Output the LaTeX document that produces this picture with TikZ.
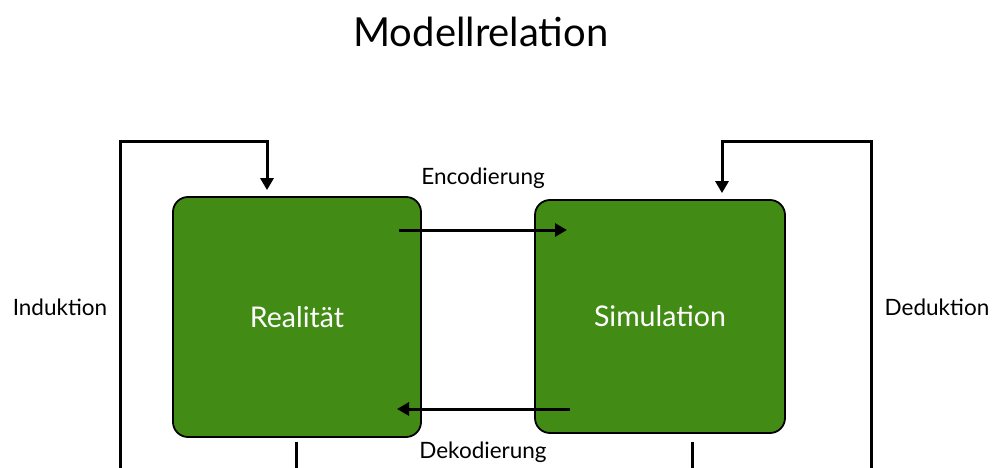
\documentclass[tikz,border=0pt]{standalone}
\usepackage{fontspec}
\setmainfont{Lato}
\usetikzlibrary{arrows.meta}
\definecolor{modelgreen}{RGB}{66,140,22}

\tikzset{
  modelbox/.style={draw=black, line width=1.8pt, fill=modelgreen, rounded corners=15pt,
    text=white, font=\fontsize{28.5}{32}\selectfont, inner sep=0pt},
  flow/.style={line width=3pt, -{Triangle[length=12pt,width=13pt]}},
  backline/.style={line width=3pt},
  caption/.style={font=\fontsize{22.5}{26}\selectfont},
}

\begin{document}
\begin{tikzpicture}[x=1pt,y=-1pt]
\useasboundingbox (0,0) rectangle (994,468);

\node[font=\fontsize{40}{48}\selectfont] (title) at (481,32) {Modellrelation};

% the two boxes
\node[modelbox, minimum width=248pt, minimum height=240pt] (real) at (297,317) {Realität};
\node[modelbox, minimum width=250pt, minimum height=233pt] (sim) at (660,316.5) {Simulation};

% encode / decode
\coordinate (encfrom) at (399,230);
\coordinate (encto) at (567,230);
\coordinate (decfrom) at (570,409);
\coordinate (decto) at (397,409);
\draw[flow] (encfrom) -- (encto);
\draw[flow] (decfrom) -- (decto);
\node[caption] (enc) at (483,178) {Encodierung};
\node[caption] (dec) at (483,452) {Dekodierung};

% induction / deduction loops
\coordinate (indfoot) at (120,468);
\coordinate (indtop) at (267,142);
\coordinate (dedfoot) at (871,468);
\coordinate (dedtop) at (722,142);
\draw[flow, shorten >=6pt] (indfoot) |- (indtop) -- (indtop |- real.north);
\draw[flow, shorten >=6pt] (dedfoot) |- (dedtop) -- (dedtop |- sim.north);
\node[caption] (ind) at (60,307) {Induktion};
\node[caption] (ded) at (937,307) {Deduktion};

% lines leaving the boxes below
\draw[backline] (real.south) ++(-1,4) coordinate (realfoot) -- (realfoot |- indfoot);
\draw[backline] (sim.south) ++(32,8) coordinate (simfoot) -- (simfoot |- dedfoot);
\end{tikzpicture}
\end{document}
